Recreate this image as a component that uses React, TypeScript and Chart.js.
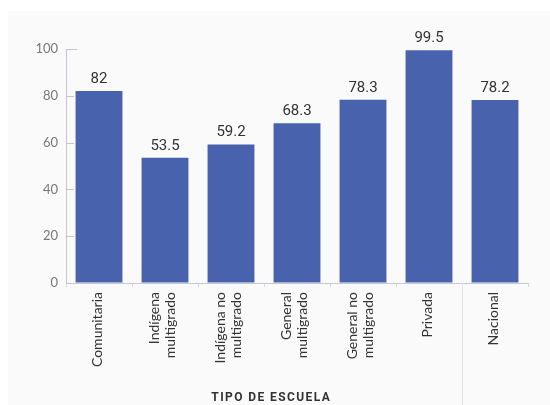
import React, { useEffect, useRef } from "react";
import { Chart, registerables } from "chart.js";

Chart.register(...registerables);

const categories: string[][] = [
  ["Comunitaria"],
  ["Indígena", "multigrado"],
  ["Indígena no", "multigrado"],
  ["General", "multigrado"],
  ["General no", "multigrado"],
  ["Privada"],
  ["Nacional"],
];
const values = [82, 53.5, 59.2, 68.3, 78.3, 99.5, 78.2];
const valueLabels = ["82", "53.5", "59.2", "68.3", "78.3", "99.5", "78.2"];
const yTicks = [0, 20, 40, 60, 80, 100];
const axisTitle = "TIPO DE ESCUELA";

const W = 550;
const H = 405;

export default function App() {
  const ref = useRef<HTMLCanvasElement | null>(null);

  useEffect(() => {
    document.body.style.margin = "0";
    const canvas = ref.current;
    if (!canvas) return;

    const bgPlugin = {
      id: "bg",
      beforeDraw(chart: any) {
        const ctx = chart.ctx;
        ctx.save();
        ctx.fillStyle = "#ffffff";
        ctx.fillRect(0, 0, chart.width, chart.height);
        ctx.fillStyle = "#fafafa";
        ctx.fillRect(8, 11, chart.width - 8, chart.height - 11);
        ctx.restore();
      },
    };

    const decoPlugin = {
      id: "deco",
      afterDraw(chart: any) {
        const ctx = chart.ctx;
        const x = chart.scales.x;
        const y = chart.scales.y;
        const area = chart.chartArea;
        ctx.save();
        // inward y ticks
        ctx.strokeStyle = "#c3c6d2";
        ctx.lineWidth = 1;
        yTicks.forEach((v) => {
          const py = Math.round(y.getPixelForValue(v)) + 0.5;
          ctx.beginPath();
          ctx.moveTo(area.left, py);
          ctx.lineTo(area.left + (v === 100 ? 11 : 8), py);
          ctx.stroke();
        });
        // separator before last category
        const n = categories.length;
        const sx = Math.round((x.getPixelForValue(n - 2) + x.getPixelForValue(n - 1)) / 2) + 0.5;
        ctx.strokeStyle = "#e3e5eb";
        ctx.beginPath();
        ctx.moveTo(sx, area.bottom);
        ctx.lineTo(sx, chart.height);
        ctx.stroke();
        // value labels
        ctx.fillStyle = "#333333";
        ctx.font = "15px Roboto";
        ctx.textAlign = "center";
        ctx.textBaseline = "alphabetic";
        const meta = chart.getDatasetMeta(0);
        meta.data.forEach((bar: any, i: number) => {
          ctx.fillText(valueLabels[i], bar.x, bar.y - 8);
        });
        // category labels (rotated)
        ctx.font = "14px Lato";
        ctx.fillStyle = "#333333";
        ctx.textAlign = "right";
        ctx.textBaseline = "middle";
        const lh = 16;
        categories.forEach((lines, i) => {
          const cx = x.getPixelForValue(i);
          lines.forEach((line, j) => {
            const lx = cx - 1.5 + (j - (lines.length - 1) / 2) * lh - (lines.length > 1 ? 1.5 : 0);
            ctx.save();
            ctx.translate(lx, area.bottom + 9);
            ctx.rotate(-Math.PI / 2);
            ctx.fillText(line, 0, 0);
            ctx.restore();
          });
        });
        // axis title
        ctx.font = "bold 12px Roboto";
        ctx.fillStyle = "#333333";
        ctx.textAlign = "center";
        (ctx as any).letterSpacing = "1.4px";
        ctx.textBaseline = "middle";
        ctx.fillText(axisTitle, (area.left + sx) / 2 + 7, 398);
        ctx.restore();
      },
    };

    const chart = new Chart(canvas, {
      type: "bar",
      data: {
        labels: categories.map((c) => c.join(" ")),
        datasets: [
          {
            data: values,
            backgroundColor: "#4862ad",
            borderWidth: 0,
            barPercentage: 0.71,
            categoryPercentage: 1,
          },
        ],
      },
      options: {
        responsive: false,
        animation: false,
        layout: { padding: { top: 49, right: 22, left: 0, bottom: 0 } },
        plugins: {
          legend: { display: false },
          tooltip: { enabled: false },
          title: { display: false },
        },
        scales: {
          x: {
            afterFit: (s: any) => {
              s.height = H - 283;
            },
            grid: {
              display: true,
              drawOnChartArea: false,
              drawTicks: true,
              tickLength: 4,
              color: "#d4d6de",
              offset: true,
            },
            border: { display: true, color: "#c5c8d3", width: 1 },
            ticks: { display: false },
          },
          y: {
            min: 0,
            max: 100,
            afterFit: (s: any) => {
              s.width = 66;
            },
            grid: { display: true, drawOnChartArea: false, drawTicks: false },
            border: { display: true, color: "#c3c6d2", width: 1 },
            ticks: {
              stepSize: 20,
              padding: 8,
              color: "#777777",
              font: { family: "Lato", size: 13 },
            },
          },
        },
      },
      plugins: [bgPlugin, decoPlugin],
    });

    return () => chart.destroy();
  }, []);

  return <canvas ref={ref} width={W} height={H} style={{ display: "block" }} />;
}
